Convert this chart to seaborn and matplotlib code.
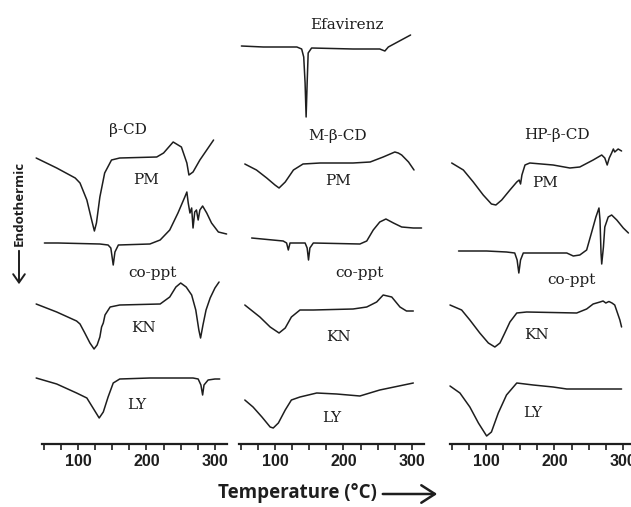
import matplotlib
matplotlib.use("Agg")
import matplotlib.pyplot as plt
from matplotlib.patches import FancyArrowPatch
from matplotlib import font_manager
import numpy as np
import seaborn as sns

# ---- DSC thermograms: temperature (deg C) vs heat-flow signal (arbitrary units, offset per trace) ----

# beta-CD panel
BCD_PM_T = [39, 69, 96, 103, 113, 120, 124, 127, 132, 139, 149, 161, 215, 225, 239, 251, 259, 262, 268, 278, 298]
BCD_PM_S = [286, 276, 266, 261, 244, 224, 213, 221, 247, 271, 284, 286, 287, 291, 302, 297, 281, 269, 272, 284, 304]

BCD_CO_T = [51, 71, 132, 144, 148, 151.5, 154, 159, 205, 220, 234, 246, 256, 259, 261, 263.5, 266, 268,
            270.5, 273, 275.5, 278, 282, 288, 295, 305, 317]
BCD_CO_S = [201, 201, 200, 199, 196, 179, 192, 199, 200, 204, 214, 231, 247, 252, 241, 231, 236, 216,
            232, 234, 224, 234, 238, 231, 221, 212, 210]

BCD_KN_T = [39, 69, 98, 103, 110, 117.5, 123.5, 128, 132, 134.5, 137, 139.5, 147, 161, 220, 234, 243, 250,
            258, 266, 272, 276.5, 279, 282.5, 287, 293, 300, 306]
BCD_KN_S = [140, 132, 123, 120, 111, 101, 95, 99, 107, 117, 121, 129, 137, 139, 140, 147, 157, 161,
            157, 149, 134, 114, 106, 119, 134, 146, 156, 162]

BCD_LY_T = [39, 69, 98, 113, 122, 131, 137, 144, 151.5, 161, 205, 268, 275.5, 279.5, 282, 284, 290, 300, 307]
BCD_LY_S = [66, 60, 51, 46, 36, 26, 32, 47, 61, 65, 66, 66, 65, 59, 49, 59, 64, 65, 65]

# Efavirenz alone
EFV_T = [51, 83, 132, 139, 142, 144, 145.5, 147, 148.5, 153.5, 214, 253, 260.5, 265.5, 298]
EFV_S = [398, 397, 397, 395, 387, 361, 327, 361, 391, 396, 395, 395, 393, 397, 409]

# M-beta-CD panel
MCD_PM_T = [56, 73, 88, 100, 106, 115, 127, 141, 166, 214, 239, 258, 275, 280, 285, 295, 303]
MCD_PM_S = [280, 274, 266, 259, 256, 262, 274, 280, 281, 281, 282, 287, 292, 291, 289, 282, 274]

MCD_CO_T = [66, 112, 117, 119.5, 122, 144, 147, 149, 151, 156, 224, 234, 243.5, 253, 262, 273, 285, 302, 314]
MCD_CO_S = [206, 203, 201, 194, 201, 201, 196, 184, 196, 201, 200, 203, 214, 222, 225, 221, 217, 216, 216]

MCD_KN_T = [56, 78, 93, 106, 115, 124, 136.5, 156, 214, 234, 248.5, 258, 270.5, 282.5, 292, 302]
MCD_KN_S = [139, 127, 117, 111, 116, 127, 134, 134, 135, 137, 142, 149, 147, 137, 133, 133]

MCD_LY_T = [56, 68, 81, 93, 97.5, 105, 115, 124, 136.5, 161, 190, 224, 253, 302]
MCD_LY_S = [44, 37, 27, 17, 16, 21, 34, 44, 47, 51, 50, 48, 54, 61]

# HP-beta-CD panel
HCD_PM_T = [50, 67, 81.5, 96, 108, 114.5, 123, 135, 145, 148.5, 150.5, 152.5, 157, 164, 198, 222.5, 237,
            256.5, 269, 273.5, 277, 280, 283.5, 286, 288, 293, 298]
HCD_PM_S = [281, 274, 262, 249, 240, 239, 244, 254, 262, 264, 260, 269, 279, 281, 279, 276, 277,
            284, 289, 286, 279, 286, 291, 295, 292, 295, 293]

HCD_CO_T = [60, 101, 130, 142, 145.5, 148, 150.5, 154.5, 174, 218, 227.5, 237, 247, 254, 260.5, 265, 266.5,
            268, 269, 271.5, 273.5, 278.5, 283.5, 291, 300.5, 308]
HCD_CO_S = [193, 193, 192, 191, 184, 171, 184, 191, 191, 191, 188, 189, 194, 211, 227, 236, 224,
            191, 180, 197, 217, 227, 229, 224, 216, 211]

HCD_KN_T = [47.5, 64.5, 76.5, 91, 103.5, 113, 120.5, 127.5, 135, 145, 159.5, 232.5, 247, 256.5, 266.5, 271,
            275, 279.5, 284, 288, 293, 295.5, 298]
HCD_KN_S = [139, 134, 124, 111, 101, 97, 101, 111, 122, 131, 132, 131, 135, 140, 142, 143,
            141, 142.5, 141, 139, 129, 124, 117]

HCD_LY_T = [47.5, 62, 76.5, 89, 101, 108, 118, 130, 145, 169, 198, 218, 298]
HCD_LY_S = [58, 51, 37, 21, 8, 12, 31, 49, 61, 59, 57, 55, 55]

TICK_LABELS = ["100", "200", "300"]
TICK_VALUES = [100, 200, 300]

panels = [
    {
        "curves": [(BCD_PM_T, BCD_PM_S), (BCD_CO_T, BCD_CO_S), (BCD_KN_T, BCD_KN_S), (BCD_LY_T, BCD_LY_S)],
        "labels": [("\u03b2-CD", 173, 314), ("PM", 199, 264), ("co-ppt", 209, 171), ("KN", 195, 116), ("LY", 186, 39)],
    },
    {
        "curves": [(EFV_T, EFV_S), (MCD_PM_T, MCD_PM_S), (MCD_CO_T, MCD_CO_S), (MCD_KN_T, MCD_KN_S),
                   (MCD_LY_T, MCD_LY_S)],
        "labels": [("Efavirenz", 205, 419), ("M-\u03b2-CD", 192, 308), ("PM", 192, 263), ("co-ppt", 224, 171),
                   ("KN", 192, 107), ("LY", 183, 26)],
    },
    {
        "curves": [(HCD_PM_T, HCD_PM_S), (HCD_CO_T, HCD_CO_S), (HCD_KN_T, HCD_KN_S), (HCD_LY_T, HCD_LY_S)],
        "labels": [("HP-\u03b2-CD", 203, 309), ("PM", 186, 261), ("co-ppt", 225, 164), ("KN", 174, 109),
                   ("LY", 169, 31)],
    },
]

sns.set_theme(style="white")
installed = {f.name for f in font_manager.fontManager.ttflist}
tick_family = "Liberation Sans Narrow" if "Liberation Sans Narrow" in installed else "Liberation Sans"
plt.rcParams["font.family"] = ["DejaVu Sans"]

INK = "#1e1e1e"
W, H = 631, 507
fig = plt.figure(figsize=(W / 100, H / 100), dpi=100)
fig.patch.set_facecolor("white")

lefts = [30, 227, 438]
for left, panel in zip(lefts, panels):
    ax = fig.add_axes([left / W, 63 / H, 205.5 / W, 444 / H])
    ax.set_facecolor("none")
    for T, S in panel["curves"]:
        sns.lineplot(x=T, y=S, ax=ax, sort=False, estimator=None, color=INK, linewidth=1.1)
    for text, tx, sy in panel["labels"]:
        ax.text(tx, sy, text, ha="center", va="center", family="DejaVu Serif", fontsize=11, color=INK)
    ax.set_xlim(30, 330)
    ax.set_ylim(0, 444)
    ax.set_yticks([])
    ax.set_xticks(TICK_VALUES)
    ax.set_xticklabels(TICK_LABELS, family=tick_family, fontweight="bold", fontsize=11.5, color=INK)
    ax.set_xticks(np.arange(50, 325, 25), minor=True)
    ax.tick_params(axis="x", which="both", bottom=True, direction="out", length=4, width=1.2,
                   color=INK, pad=3)
    for side in ("left", "right", "top"):
        ax.spines[side].set_visible(False)
    ax.spines["bottom"].set_bounds(48, 318)
    ax.spines["bottom"].set_linewidth(1.6)
    ax.spines["bottom"].set_color(INK)
    ax.set_xlabel("")
    ax.set_ylabel("")

# Axis titles drawn at figure level
fig.text(297 / W, 1 - 493 / H, "Temperature (\u00b0C)", ha="center", va="center",
         family="Open Sans", fontweight="bold", fontsize=13.5, color=INK)
fig.add_artist(FancyArrowPatch((380 / W, 1 - 494 / H), (440 / W, 1 - 494 / H), transform=fig.transFigure,
                               arrowstyle="->,head_length=0.7,head_width=0.45", mutation_scale=14,
                               lw=1.8, color=INK))

fig.text(19 / W, 1 - 203 / H, "Endothermic", rotation=90, ha="center", va="center",
         family="Open Sans", fontweight="bold", fontsize=9.5, color=INK)
fig.add_artist(FancyArrowPatch((19 / W, 1 - 248 / H), (19 / W, 1 - 287 / H), transform=fig.transFigure,
                               arrowstyle="->,head_length=0.5,head_width=0.35", mutation_scale=12,
                               lw=1.4, color=INK))

fig.savefig("out.png", dpi=100, facecolor="white")
